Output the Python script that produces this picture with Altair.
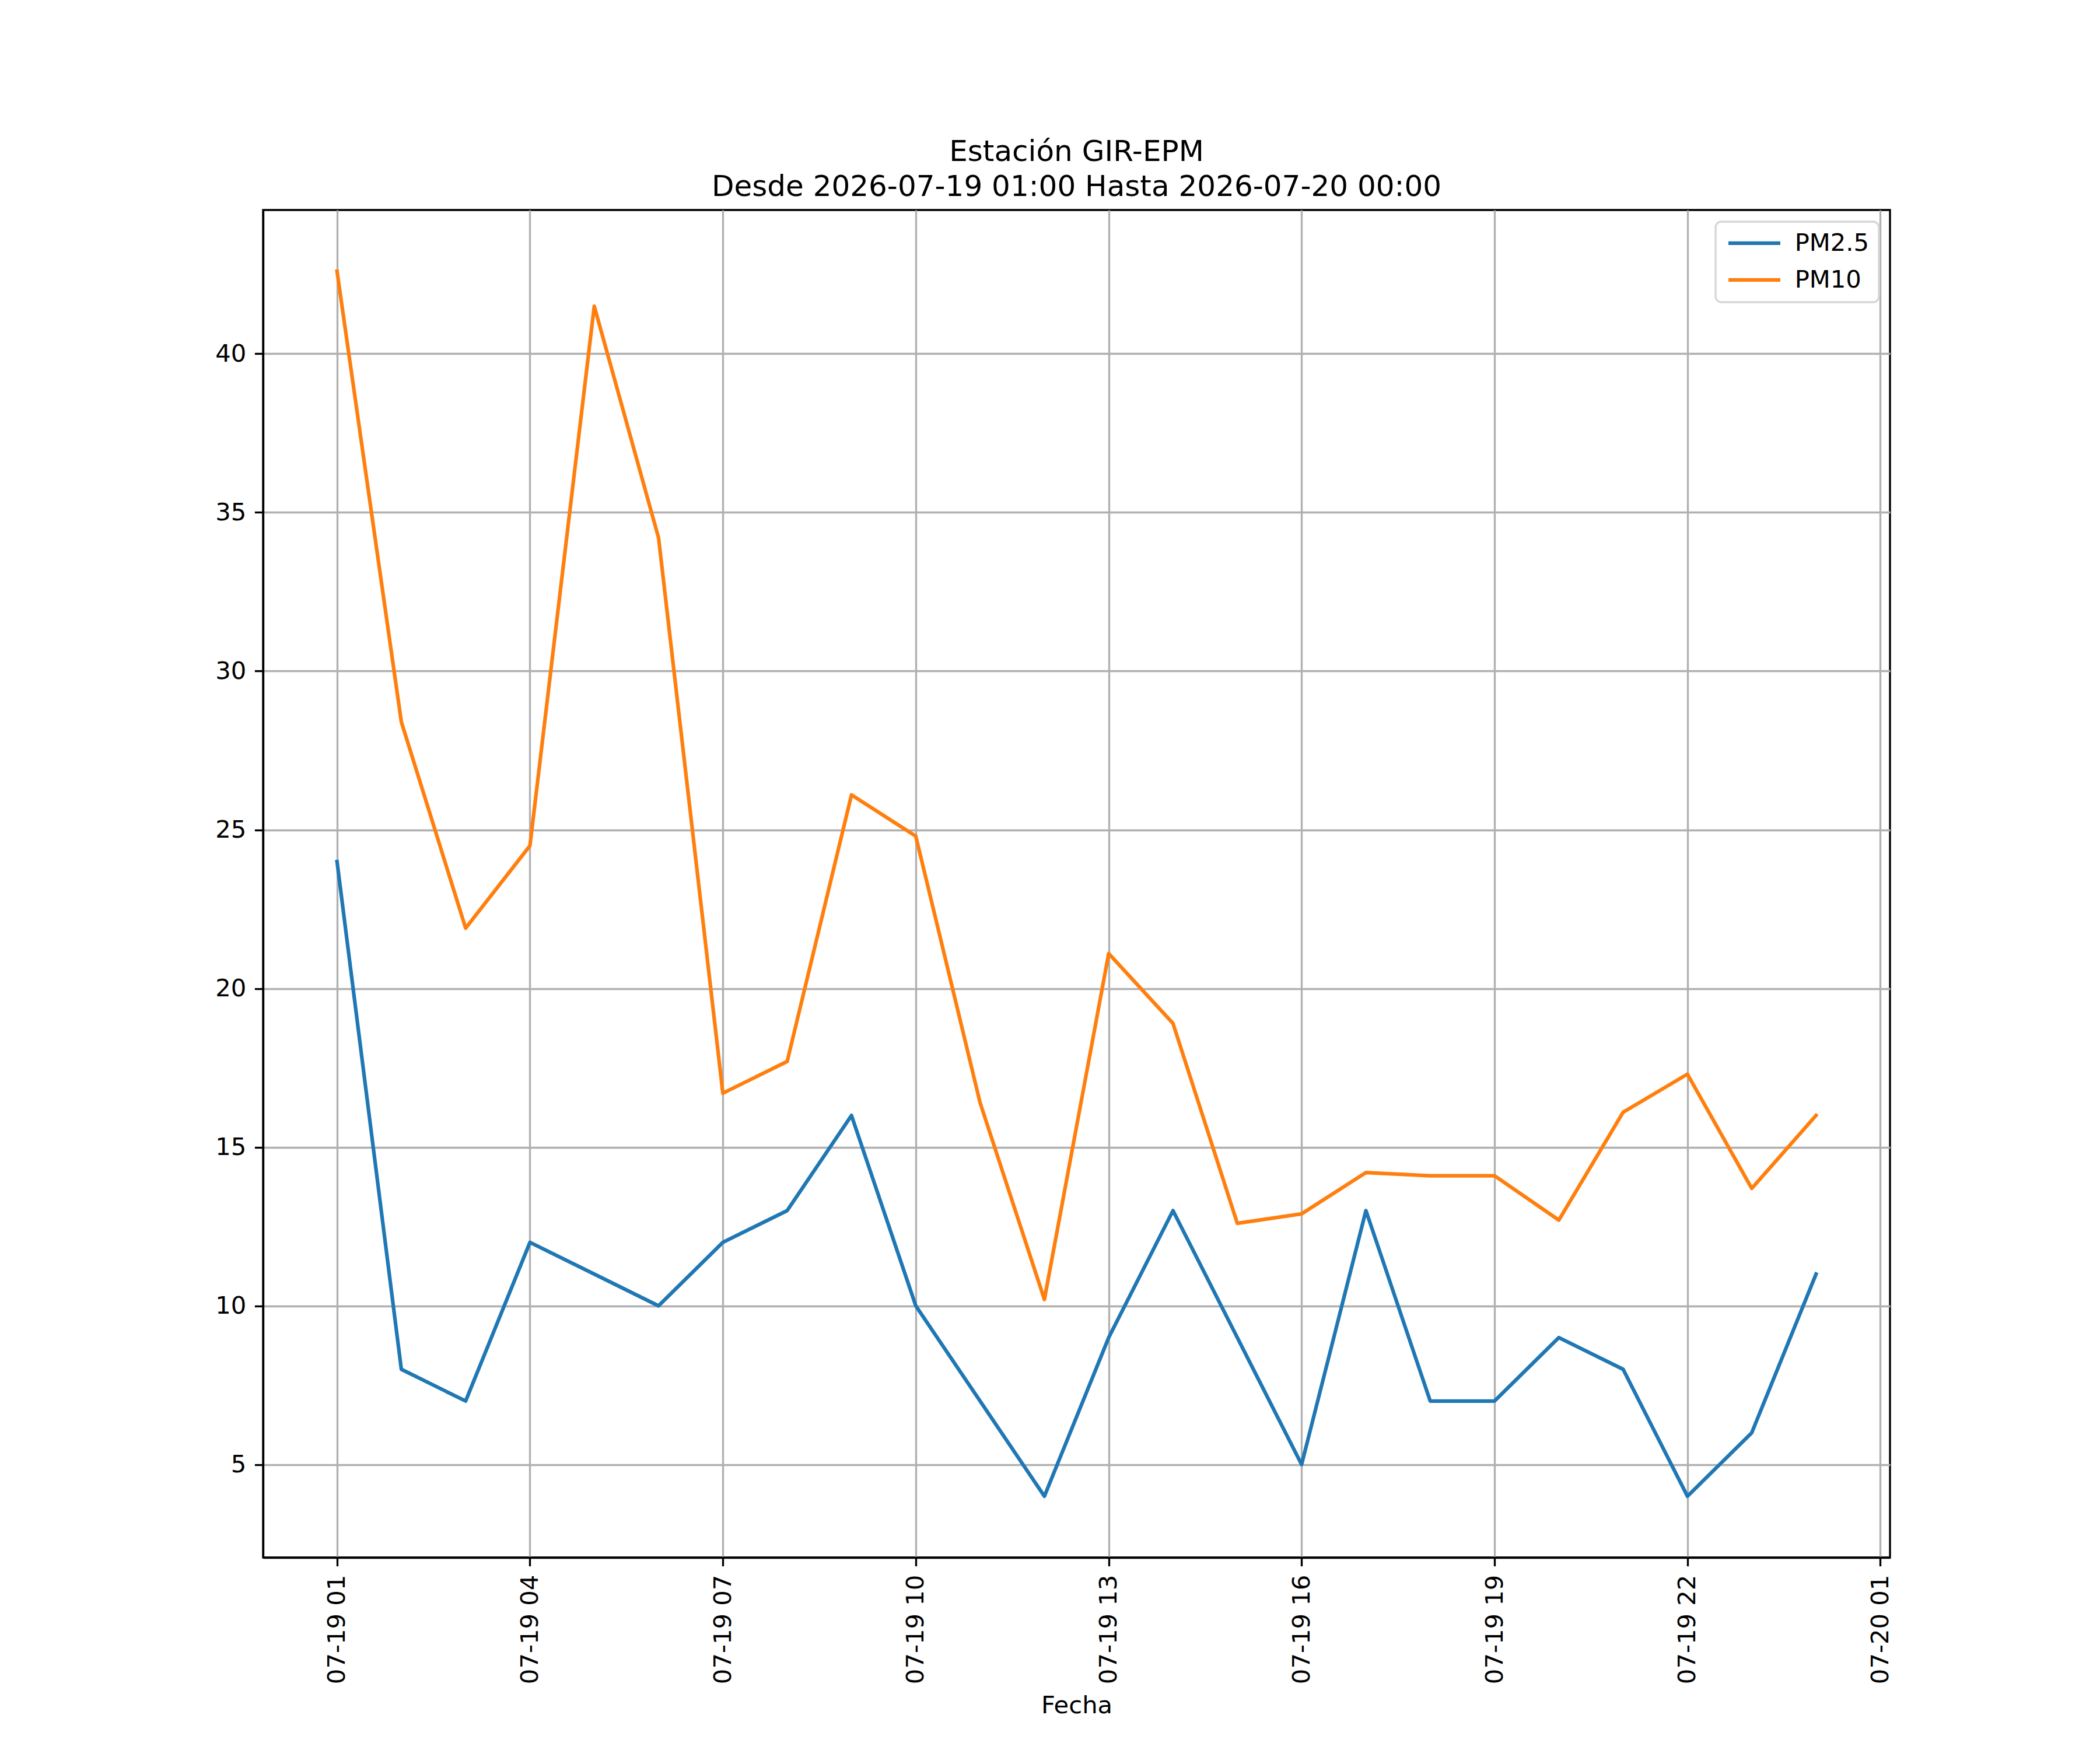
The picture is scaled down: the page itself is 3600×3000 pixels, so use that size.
import altair as alt
import pandas as pd

# ---- data ----
times = [
    "2026-07-19T01:00:00Z", "2026-07-19T02:00:00Z", "2026-07-19T03:00:00Z",
    "2026-07-19T04:00:00Z", "2026-07-19T05:00:00Z", "2026-07-19T06:00:00Z",
    "2026-07-19T07:00:00Z", "2026-07-19T08:00:00Z", "2026-07-19T09:00:00Z",
    "2026-07-19T10:00:00Z", "2026-07-19T11:00:00Z", "2026-07-19T12:00:00Z",
    "2026-07-19T13:00:00Z", "2026-07-19T14:00:00Z", "2026-07-19T15:00:00Z",
    "2026-07-19T16:00:00Z", "2026-07-19T17:00:00Z", "2026-07-19T18:00:00Z",
    "2026-07-19T19:00:00Z", "2026-07-19T20:00:00Z", "2026-07-19T21:00:00Z",
    "2026-07-19T22:00:00Z", "2026-07-19T23:00:00Z", "2026-07-20T00:00:00Z",
]
pm25 = [24, 8, 7, 12, 11, 10, 12, 13, 16, 10, 7, 4,
        9, 13, 9, 5, 13, 7, 7, 9, 8, 4, 6, 11]
pm10 = [42.6, 28.4, 21.9, 24.5, 41.5, 34.2, 16.7, 17.7, 26.1, 24.8, 16.4, 10.2,
        21.1, 18.9, 12.6, 12.9, 14.2, 14.1, 14.1, 12.7, 16.1, 17.3, 13.7, 16.0]
series_names = ["PM2.5", "PM10"]
series_colors = ["#1f77b4", "#ff7f0e"]
tick_hours = [(19, 1), (19, 4), (19, 7), (19, 10), (19, 13), (19, 16),
              (19, 19), (19, 22), (20, 1)]
y_ticks = [5, 10, 15, 20, 25, 30, 35, 40]
title_lines = ["Estación GIR-EPM", "Desde 2026-07-19 01:00 Hasta 2026-07-20 00:00"]

df = pd.concat([
    pd.DataFrame({"fecha": times, "valor": pm25, "serie": series_names[0]}),
    pd.DataFrame({"fecha": times, "valor": pm10, "serie": series_names[1]}),
])

FONT = "DejaVu Sans"
FS = 41.7
LW = 3.33

x_domain = [
    alt.DateTime(year=2026, month=7, date=18, hours=23, minutes=51, utc=True),
    alt.DateTime(year=2026, month=7, date=20, hours=1, minutes=9, utc=True),
]
x_values = [alt.DateTime(year=2026, month=7, date=d, hours=h, utc=True) for d, h in tick_hours]

chart = alt.Chart(df).mark_line(
    strokeWidth=6.25, strokeCap="square", strokeJoin="round"
).encode(
    x=alt.X(
        "fecha:T",
        scale=alt.Scale(type="utc", domain=x_domain, nice=False),
        axis=alt.Axis(
            values=x_values,
            labelExpr="utcFormat(datum.value, '%m-%d %H')",
            labelAngle=270, labelLimit=0, title="Fecha", titleFontSize=FS,
            titleFont=FONT, titleFontWeight="normal", titleColor="black",
            titleBaseline="alphabetic", titleY=266, grid=True,
        ),
    ),
    y=alt.Y(
        "valor:Q",
        scale=alt.Scale(domain=[2.07, 44.53], nice=False, zero=False),
        axis=alt.Axis(values=y_ticks, title=None, grid=True),
    ),
    color=alt.Color(
        "serie:N",
        scale=alt.Scale(domain=series_names, range=series_colors),
        sort=series_names,
        legend=alt.Legend(
            title=None, orient="none", legendX=2490, legendY=20,
            symbolType="M-1,0H5", symbolSize=880, symbolStrokeWidth=6.25,
            labelFontSize=FS, labelFont=FONT, labelColor="black", labelOffset=78,
            labelLimit=0, rowPadding=20, padding=16, strokeColor="#d6d6d6",
            fillColor="white", cornerRadius=10,
        ),
    ),
    detail="serie:N",
).properties(
    width=2789,
    height=2310,
    autosize=alt.AutoSizeParams(type="none"),
    padding={"left": 443, "top": 352, "right": 352, "bottom": 322},
    background="white",
    title=alt.TitleParams(
        text=title_lines, fontSize=50, font=FONT, fontWeight="normal",
        color="black", anchor="middle", frame="group", baseline="bottom",
        offset=-36, lineHeight=60,
    ),
).configure_view(
    stroke="black", strokeWidth=LW,
).configure_axis(
    domainColor="black", domainWidth=LW, tickColor="black", tickWidth=LW,
    tickSize=14.6, labelFontSize=FS, labelFont=FONT, labelColor="black",
    labelPadding=14.6, gridColor="#b0b0b0", gridWidth=LW, gridOpacity=1,
).configure_legend(
    strokeWidth=LW,
)

chart.save("out.html", embed_options={"renderer": "svg", "actions": False})
